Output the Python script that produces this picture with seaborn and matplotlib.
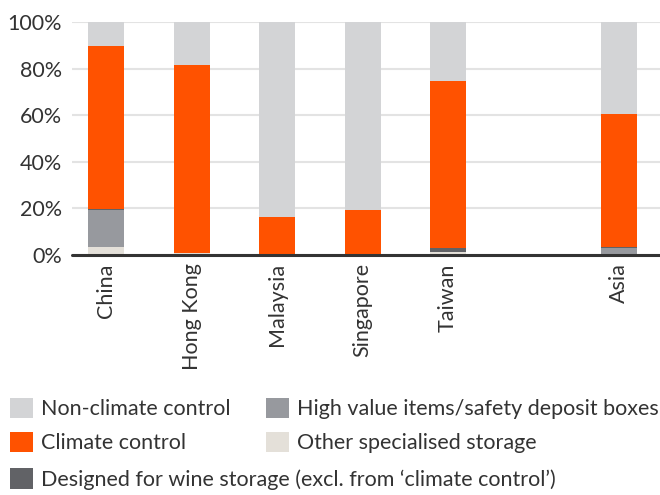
import numpy as np
import pandas as pd
import matplotlib
matplotlib.use("Agg")
import matplotlib.pyplot as plt
import matplotlib.patches as mpatches
import seaborn as sns

# data (% of storage space)
regions = ["China", "Hong Kong", "Malaysia", "Singapore", "Taiwan", "Asia"]
other_specialised = [3.5, 1.0, 0.0, 0.0, 1.5, 0.3]
high_value = [16.0, 0.0, 0.0, 0.0, 0.0, 2.5]
wine_storage = [0.3, 0.0, 0.0, 0.0, 1.3, 0.6]
climate_control = [70.0, 80.5, 16.4, 19.3, 71.9, 57.2]
non_climate = [10.2, 18.5, 83.6, 80.7, 25.3, 39.4]

order = ["China", "Hong Kong", "Malaysia", "Singapore", "Taiwan", " ", "Asia"]

colors = {
    "Non-climate control": "#d3d4d6",
    "Climate control": "#ff5200",
    "Designed for wine storage (excl. from \u2018climate control\u2019)": "#616266",
    "High value items/safety deposit boxes": "#97999e",
    "Other specialised storage": "#e4e0d9",
}

df = pd.DataFrame({
    "region": regions,
    "other": other_specialised,
    "high": high_value,
    "wine": wine_storage,
    "climate": climate_control,
    "non": non_climate,
})
# cumulative tops, bottom layer first
df["c_other"] = df["other"]
df["c_high"] = df["c_other"] + df["high"]
df["c_wine"] = df["c_high"] + df["wine"]
df["c_climate"] = df["c_wine"] + df["climate"]
df["c_non"] = df["c_climate"] + df["non"]

sns.set_style("white")
plt.rcParams["font.family"] = ["Lato", "DejaVu Sans"]
txt = "#333333"
fs = 15.5

fig = plt.figure(figsize=(6.6, 4.95), dpi=100)
ax = fig.add_axes([72 / 660, 1 - 255 / 495, 588 / 660, 233 / 495])

layers = [
    ("c_non", "Non-climate control"),
    ("c_climate", "Climate control"),
    ("c_wine", "Designed for wine storage (excl. from \u2018climate control\u2019)"),
    ("c_high", "High value items/safety deposit boxes"),
    ("c_other", "Other specialised storage"),
]
for col, name in layers:
    sns.barplot(data=df, x="region", y=col, order=order, color=colors[name],
                saturation=1, width=0.42, linewidth=0, errorbar=None, ax=ax)

ax.set_xlim(-0.40, 6.48)
ax.set_ylim(0, 100)
ax.set_yticks([0, 20, 40, 60, 80, 100])
ax.set_yticklabels([f"{v}%" for v in [0, 20, 40, 60, 80, 100]])
ax.yaxis.grid(True, color="#e3e3e3", linewidth=1.5)
ax.set_axisbelow(True)
ax.axhline(0, color="#333333", linewidth=2.2, zorder=5, clip_on=False)
for s in ax.spines.values():
    s.set_visible(False)
ax.set_xlabel("")
ax.set_ylabel("")
ax.tick_params(axis="y", length=0, pad=7, labelsize=fs, labelcolor=txt)
ax.tick_params(axis="x", length=0, pad=6, labelsize=fs, labelcolor=txt)
for lab in ax.get_xticklabels():
    lab.set_rotation(90)

# legend laid out like the reference: two columns, long last row
def patch(name):
    return mpatches.Patch(facecolor=colors[name], edgecolor="none", label=name)

leg_kw = dict(frameon=False, handlelength=1.07, handleheight=1.07,
              handletextpad=0.37, labelspacing=0.6, borderpad=0, borderaxespad=0,
              labelcolor=txt, loc="center left", prop={"size": fs})
names = list(colors.keys())
fig.legend(handles=[patch(names[0]), patch(names[1])],
           bbox_to_anchor=(10 / 660, 1 - 425.5 / 495), **leg_kw)
fig.legend(handles=[patch(names[3]), patch(names[4])],
           bbox_to_anchor=(266 / 660, 1 - 425.5 / 495), **leg_kw)
fig.legend(handles=[patch(names[2])],
           bbox_to_anchor=(10 / 660, 1 - 479 / 495), **leg_kw)

fig.savefig("out.png", dpi=100)
